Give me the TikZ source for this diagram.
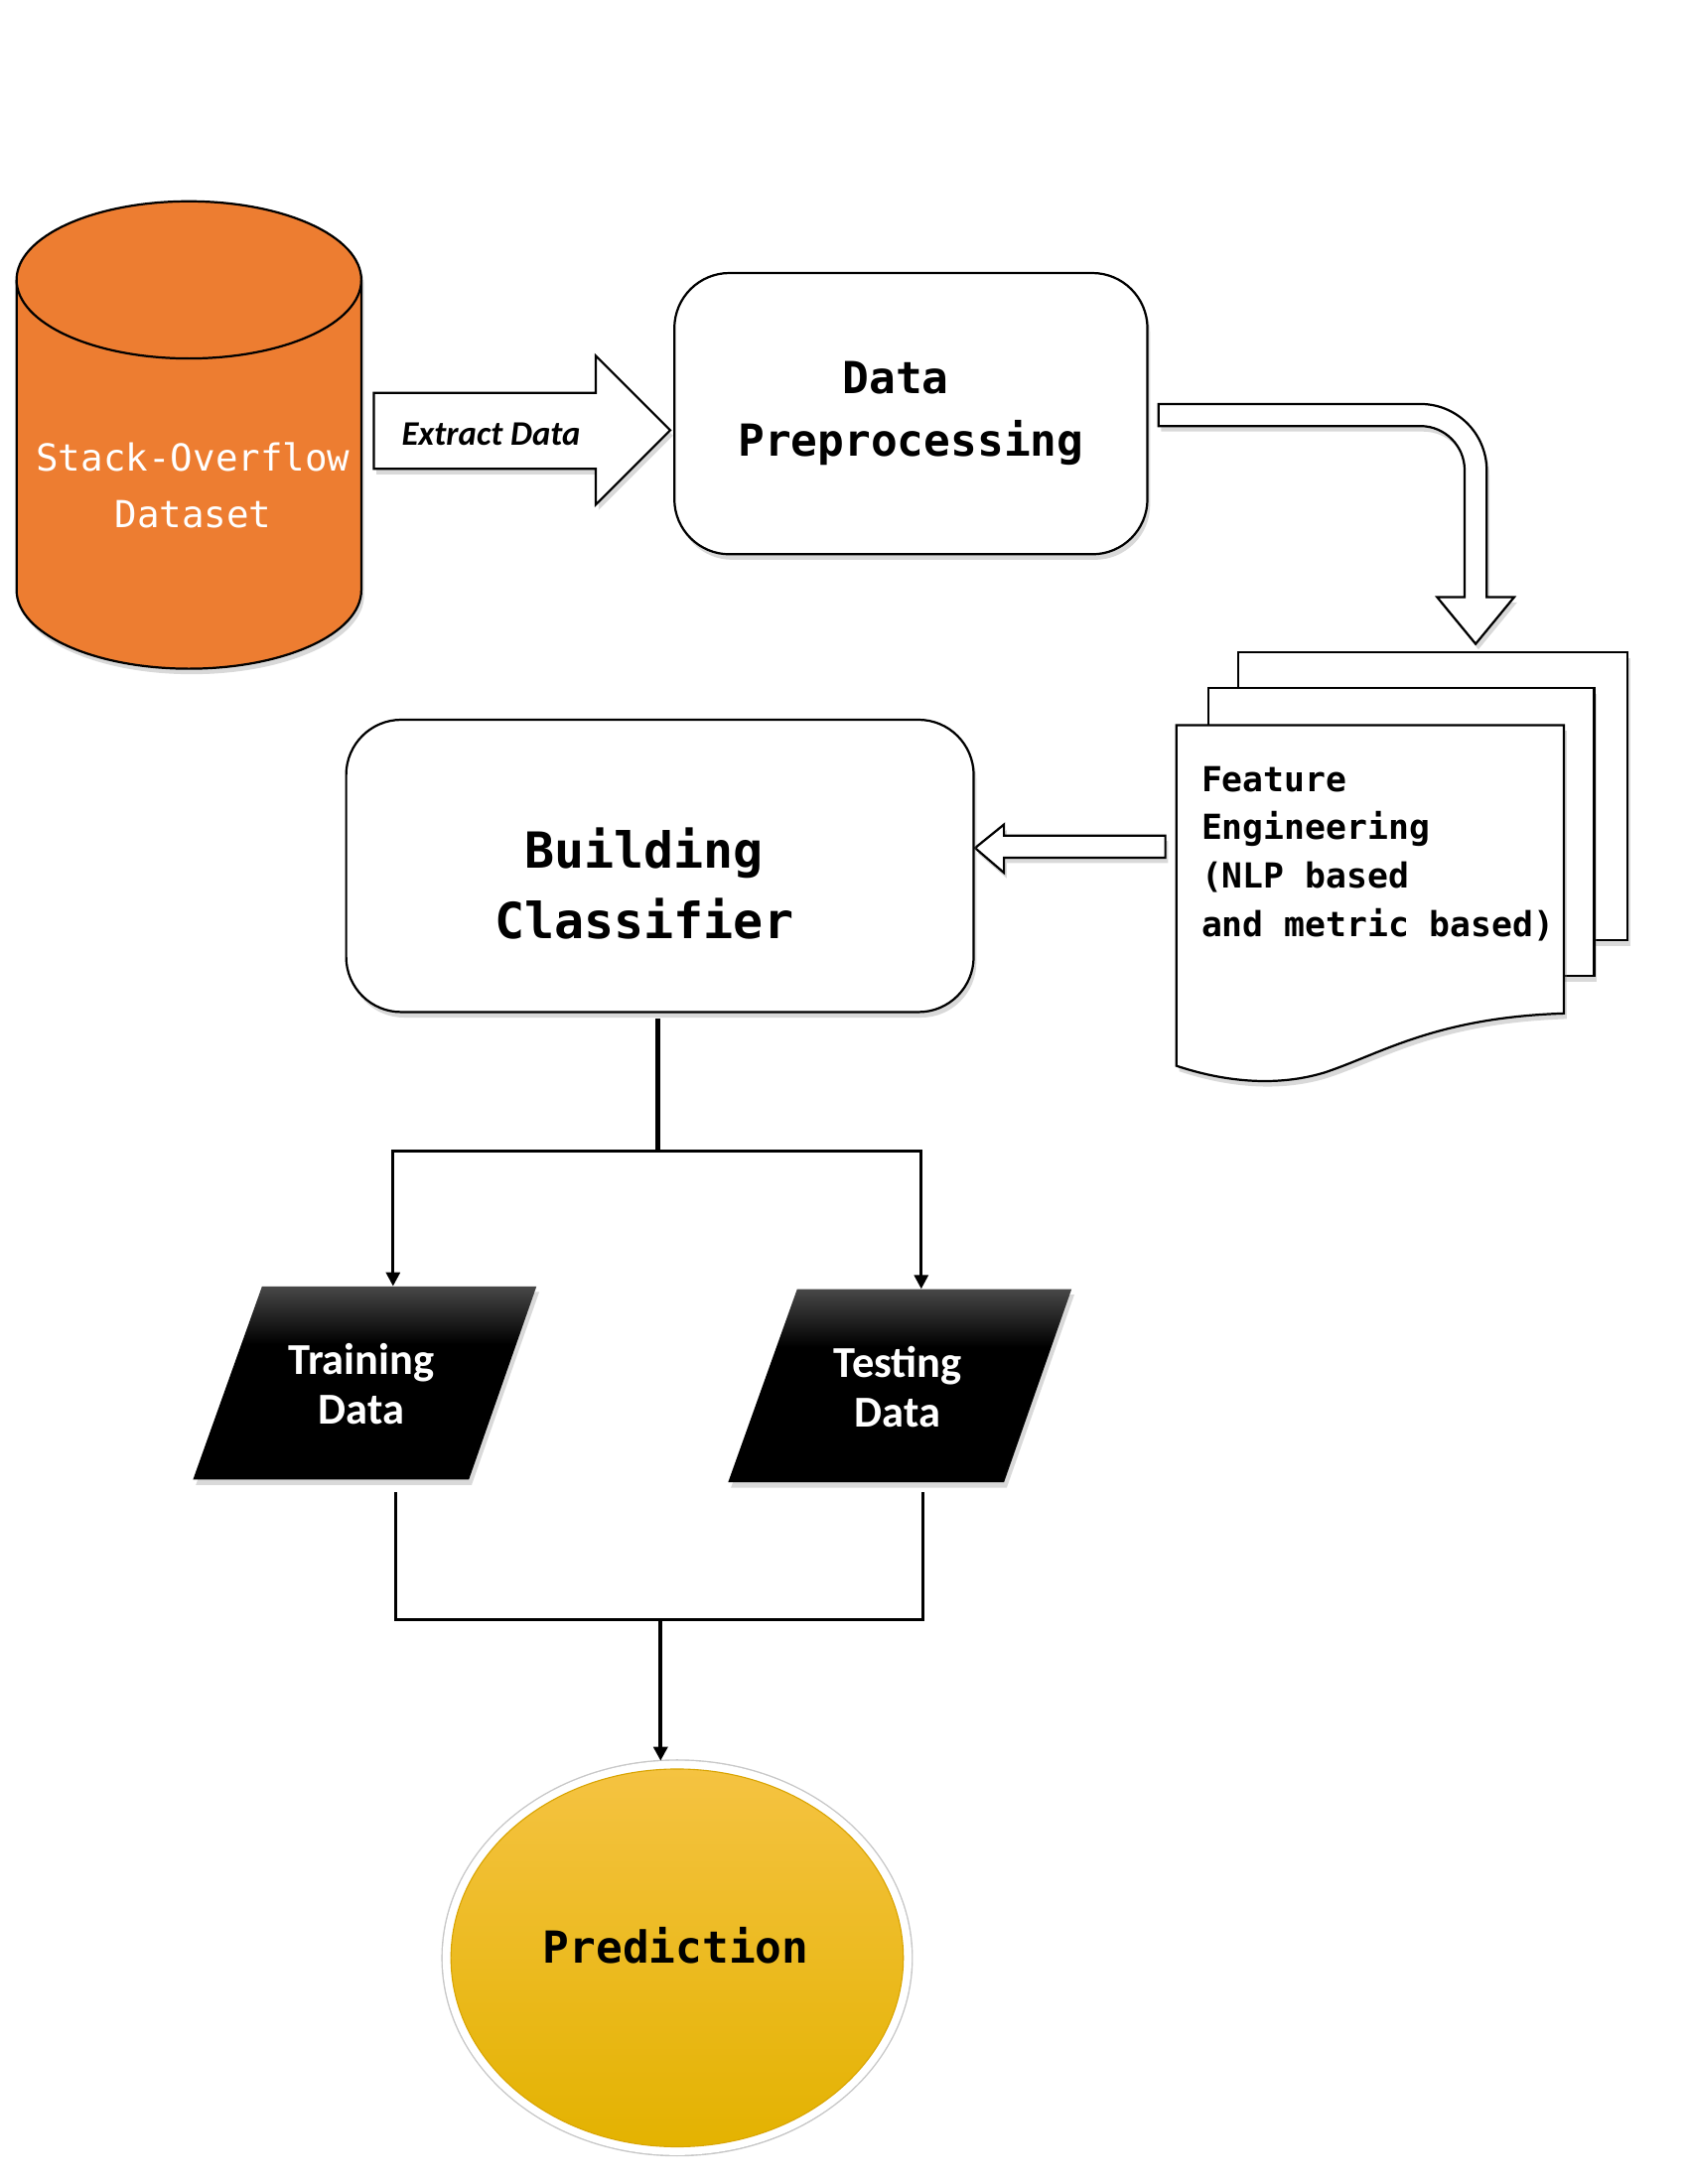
\documentclass[tikz,border=0pt]{standalone}
\usepackage{fontspec}
\usetikzlibrary{shapes.geometric,shadows,arrows.meta,calc}
\newfontfamily\monof{DejaVu Sans Mono}
\newfontfamily\carl{Carlito}
\definecolor{dsorange}{HTML}{ED7D31}
\definecolor{ptop}{HTML}{F5C342}
\definecolor{pmid}{HTML}{F7C10B}
\definecolor{pbot}{HTML}{E3B200}
\definecolor{pedge}{HTML}{D9A400}
\pgfdeclareverticalshading{parashade}{100bp}{color(0bp)=(black); color(25bp)=(black); color(60bp)=(black); color(75bp)=(black!72); color(100bp)=(black!72)}
\begin{document}
\begin{tikzpicture}[x=1pt,y=-1pt,
  shad/.style={drop shadow={shadow xshift=2pt,shadow yshift=-4pt,opacity=0.3}},
  hollow/.style={draw=black,line width=1.6pt,fill=white,shad},
  procbox/.style={hollow,rounded corners=40pt,align=center,inner sep=0pt},
  iobox/.style={font=\carl\bfseries\fontsize{32}{36}\selectfont,text=white,align=center,minimum width=200pt,minimum height=140pt,inner sep=0pt},
  conn/.style={line width=2.2pt},
  arr/.style={conn,-{Triangle[length=10pt,width=10pt]}},
]
\useasboundingbox (0,0) rectangle (1224,1584);

% dataset cylinder
\node[minimum width=250pt,minimum height=340pt,inner sep=0pt] (ds) at (137,315) {};
\path[fill=dsorange,draw=black,line width=1.6pt,shad] (12,203) -- (12,428)
  arc[start angle=180,end angle=360,x radius=125pt,y radius=57pt] -- (262,203)
  arc[start angle=0,end angle=180,x radius=125pt,y radius=57pt] -- cycle;
\draw[black,line width=1.6pt] (12,203) arc[start angle=180,end angle=360,x radius=125pt,y radius=57pt];
\node[font=\monof\fontsize{27}{41}\selectfont,text=white,align=center,inner sep=0pt] (dsl) at (140,352) {Stack-Overflow\\Dataset};

% data preprocessing
\node[procbox,minimum width=343pt,minimum height=204pt,font=\monof\bfseries\fontsize{32}{45}\selectfont] (pre) at (660.5,300) {\hspace*{-22pt}Data\\Preprocessing};

% extract arrow
\path[hollow] (271,285) -- (432,285) -- (432,258) -- (486,312) -- (432,366) -- (432,340) -- (271,340) -- cycle;
\node[font=\carl\bfseries\itshape\fontsize{25}{30}\selectfont,inner sep=0pt] (ex) at (356,315) {Extract Data};

% bent arrow
\path[hollow] (840,293) -- (1030,293) arc[start angle=90,end angle=0,radius=48pt] -- (1078,433) -- (1098,433)
  -- (1070,467) -- (1042,433) -- (1062,433) -- (1062,341) arc[start angle=0,end angle=90,radius=32pt] -- (840,309) -- cycle;

% feature engineering pages
\path[hollow] (898,473) rectangle (1180,682);
\path[hollow] (876,499) rectangle (1156,708);
\path[hollow] (853,526) -- (1134,526) -- (1134,735) .. controls (1040,738) and (1000,765) .. (960,778)
  .. controls (920,790) and (880,782) .. (853,773) -- cycle;
\node[font=\monof\bfseries\fontsize{25}{35}\selectfont,align=left,anchor=west,inner sep=0pt] (fe) at (871,619) {Feature\\Engineering\\(NLP based\\and metric based)};

% left hollow arrow
\path[hollow] (845,606) -- (728,606) -- (728,598) -- (707,615) -- (728,633) -- (728,622) -- (845,622) -- cycle;

% building classifier
\node[procbox,minimum width=455pt,minimum height=212pt] (bc) at (478.5,628) {};
\node[font=\monof\bfseries\fontsize{36}{51}\selectfont,align=center,inner sep=0pt] (bct) at (467,641) {Building\\Classifier};

% training / testing
\path[shade,shading=parashade,shad] (190,933) -- (389,933) -- (340,1073) -- (140,1073) -- cycle;
\node[iobox] (tr) at (262,1004) {Training\\Data};
\path[shade,shading=parashade,shad] (578,935) -- (777,935) -- (728,1075) -- (528,1075) -- cycle;
\node[iobox] (te) at (651,1006) {Testing\\Data};

% prediction
\node[ellipse,draw=white,line width=6pt,minimum width=334pt,minimum height=280pt,
  preaction={draw=black!22,line width=8pt},
  top color=ptop,middle color=pmid,bottom color=pbot,
  drop shadow={shadow xshift=1pt,shadow yshift=-3pt,opacity=0.25},inner sep=0pt] (pred) at (491,1420) {};
\draw[pedge,line width=0.8pt] (pred.center) ellipse[x radius=164pt,y radius=137pt];
\node[font=\monof\bfseries\fontsize{32}{38}\selectfont,inner sep=0pt] (predt) at (490,1411) {Prediction};

% connectors
\coordinate (j1) at (477,835);
\draw[line width=3.2pt] ($(j1 |- bc.south)+(0,4)$) -- (j1);
\draw[arr] (j1) -| ($(tr.north)+(23,-1)$);
\draw[arr] (j1) -| ($(te.north)+(17,-1)$);
\coordinate (j2) at (479,1175);
\draw[conn] ($(tr.south)+(25,8)$) |- (j2);
\draw[conn] ($(te.south)+(18,6)$) |- (j2);
\draw[arr,line width=3pt] (j2) -- (j2 |- pred.north);
\end{tikzpicture}
\end{document}
